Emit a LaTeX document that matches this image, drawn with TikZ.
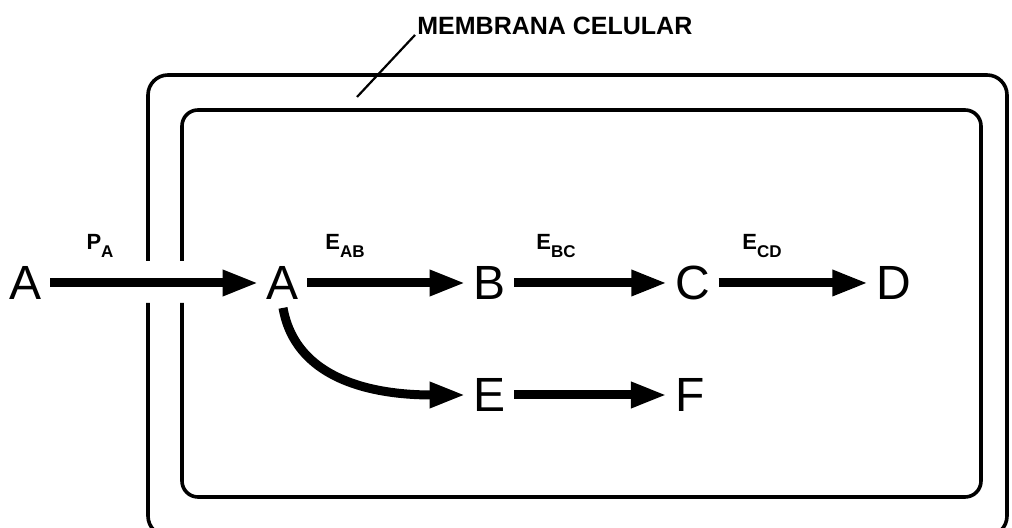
\documentclass[tikz,border=0pt]{standalone}
\usepackage{fontspec}
\setmainfont{Liberation Sans}
\usetikzlibrary{arrows.meta}
\newcommand\enzsub[1]{\raisebox{-4pt}{\fontsize{8.5}{9}\selectfont\bfseries #1}}

\begin{document}
\begin{tikzpicture}[x=0.5pt,y=0.5pt,
    wall/.style={line width=1.8pt},
    met/.style={font=\fontsize{24}{24}\selectfont, inner sep=4pt},
    rxn/.style={line width=4.5pt, -{Triangle[length=18pt,width=12pt]}},
    lbl/.style={font=\fontsize{11}{12}\selectfont\bfseries, inner sep=0pt}]
  \useasboundingbox (0,0) rectangle (1012,528);
  \clip (0,0) rectangle (1012,528);
  % membrane, two walls, open where A goes in
  \draw[wall, rounded corners=10pt] (148,267) -- (148,453) -- (1007,453) -- (1007,-8) -- (148,-8) -- (148,225);
  \draw[wall, rounded corners=8pt] (182,267) -- (182,418) -- (981,418) -- (981,31) -- (182,31) -- (182,225);
  \node[lbl, font=\fontsize{12.5}{13}\selectfont\bfseries, anchor=base west, inner sep=1pt] (mem) at (415,493) {MEMBRANA CELULAR};
  \coordinate (tick) at (357,431);
  \draw[line width=1.1pt] (tick) -- (mem.base west);
  % metabolites
  \node[met] (A0) at (26,245) {A};
  \node[met] (A1) at (283,245) {A};
  \node[met] (B) at (490,245) {B};
  \node[met] (C) at (693,245) {C};
  \node[met] (D) at (894,245) {D};
  \node[met] (E) at (490,133) {E};
  \node[met] (F) at (690,133) {F};
  % steps
  \draw[rxn] (A0) -- (A1);
  \draw[rxn] (A1) -- (B);
  \draw[rxn] (B) -- (C);
  \draw[rxn] (C) -- (D);
  \draw[rxn] (A1.south) to[out=-80,in=180] (E);
  \draw[rxn] (E) -- (F);
  \node[lbl] (pa) at (100,282) {P\enzsub{A}};
  \node[lbl] (eab) at (345,282) {E\enzsub{AB}};
  \node[lbl] (ebc) at (556,282) {E\enzsub{BC}};
  \node[lbl] (ecd) at (762,282) {E\enzsub{CD}};
\end{tikzpicture}
\end{document}
